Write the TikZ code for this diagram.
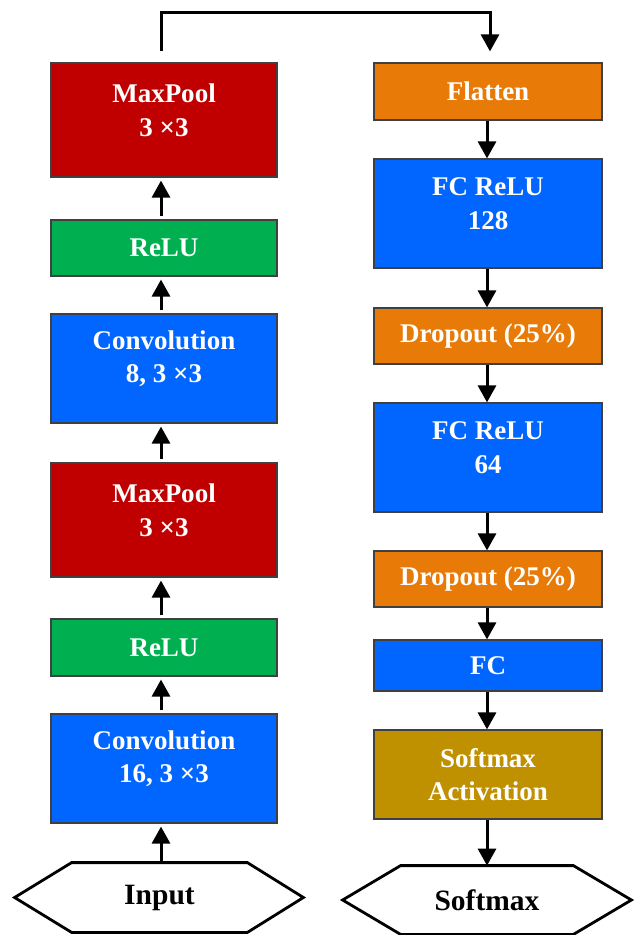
\documentclass[tikz,border=0pt]{standalone}
\usepackage{fontspec}
\setmainfont{Liberation Serif}
\usetikzlibrary{arrows.meta}
\definecolor{cred}{HTML}{C00000}
\definecolor{cgreen}{HTML}{00B050}
\definecolor{cblue}{HTML}{0066FF}
\definecolor{corange}{HTML}{E87A08}
\definecolor{cgold}{HTML}{BF9000}
\tikzset{
  layer/.style={draw=black!75, line width=0.6pt, fill=#1, text=white, align=center,
    font=\fontsize{13.5}{16.5}\selectfont\bfseries, inner sep=0pt},
  txt/.style={text=white, align=center, inner sep=0pt,
    font=\fontsize{13.5}{16.8}\selectfont\bfseries, yshift=4.8pt},
  lcol/.style={minimum width=113pt},
  rcol/.style={minimum width=114pt},
  hexlabel/.style={draw=none, inner sep=0pt, font=\fontsize{14.75}{17}\selectfont\bfseries, text=black},
  hexline/.style={draw=black, line width=1.4pt, line join=miter},
  flow/.style={line width=1.5pt, -{Triangle[width=9pt,length=8.5pt]}},
}
\begin{document}
\begin{tikzpicture}[x=0.5pt, y=-0.5pt]
\useasboundingbox (0,0) rectangle (638,935);
% left column
\node[layer=cblue, lcol, minimum height=54.5pt, label={[txt]center:{Convolution\\16, 3 ×3}}] (c16) at (164,768.5) {};
\node[layer=cgreen, lcol, minimum height=28.5pt] (r2) at (164,647.5) {ReLU};
\node[layer=cred, lcol, minimum height=57pt, label={[txt]center:{MaxPool\\3 ×3}}] (m2) at (164,520) {};
\node[layer=cblue, lcol, minimum height=54.5pt, label={[txt]center:{Convolution\\8, 3 ×3}}] (c8) at (164,368.5) {};
\node[layer=cgreen, lcol, minimum height=28pt] (r1) at (164,248) {ReLU};
\node[layer=cred, lcol, minimum height=57pt, label={[txt]center:{MaxPool\\3 ×3}}] (m1) at (164,120) {};
% right column
\node[layer=corange, rcol, minimum height=28.5pt] (fl) at (488,91.5) {Flatten};
\node[layer=cblue, rcol, minimum height=54.5pt, label={[txt]center:{FC ReLU\\128}}] (fc1) at (488,213.5) {};
\node[layer=corange, rcol, minimum height=28pt] (d1) at (488,336) {Dropout (25\%)};
\node[layer=cblue, rcol, minimum height=54.5pt, label={[txt]center:{FC ReLU\\64}}] (fc2) at (488,457.5) {};
\node[layer=corange, rcol, minimum height=28pt] (d2) at (488,579) {Dropout (25\%)};
\node[layer=cblue, rcol, minimum height=25.5pt] (fc3) at (488,665.5) {FC};
\node[layer=cgold, rcol, minimum height=44.5pt] (sa) at (488,774.5) {Softmax\\Activation};
% hexagons
\node[hexlabel, minimum width=87.5pt, minimum height=34.5pt] (in) at (159.5,897.5) {Input};
\draw[hexline] (in.north west) -- (in.north east) -- ([xshift=28pt]in.east) -- (in.south east)
  -- (in.south west) -- ([xshift=-28.5pt]in.west) -- cycle;
\node[hexlabel, minimum width=86pt, minimum height=34pt] (out) at (487,900) {Softmax};
\draw[hexline] (out.north west) -- (out.north east) -- ([xshift=29pt]out.east) -- (out.south east)
  -- (out.south west) -- ([xshift=-29pt]out.west) -- cycle;
% left arrows (upwards)
\draw[flow, shorten <=0.5pt, shorten >=1.5pt] ([xshift=-1.5pt]in.north -| c16.south) -- ([xshift=-1.5pt]c16.south);
\draw[flow, shorten <=1.5pt, shorten >=1.5pt] ([xshift=-1.5pt]c16.north) -- ([xshift=-1.5pt]r2.south);
\draw[flow, shorten <=1.5pt, shorten >=1.5pt] ([xshift=-1.5pt]r2.north) -- ([xshift=-1.5pt]m2.south);
\draw[flow, shorten <=1.5pt, shorten >=1.5pt] ([xshift=-1.5pt]m2.north) -- ([xshift=-1.5pt]c8.south);
\draw[flow, shorten <=1.5pt, shorten >=1.5pt] ([xshift=-1.5pt]c8.north) -- ([xshift=-1.5pt]r1.south);
\draw[flow, shorten <=1.5pt, shorten >=1.5pt] ([xshift=-1.5pt]r1.north) -- ([xshift=-1.5pt]m1.south);
% top connector
\coordinate (top) at (0,13);
\draw[flow, line join=miter] ([xshift=-1.5pt,yshift=5.5pt]m1.north) -- ([xshift=-1.5pt]m1.north |- top)
  -- ([xshift=1pt]fl.north |- top) -- ([xshift=1pt,yshift=5.5pt]fl.north);
% right arrows (downwards)
\draw[flow] ([xshift=-0.5pt]fl.south) -- ([xshift=-0.5pt]fc1.north);
\draw[flow] ([xshift=-0.5pt]fc1.south) -- ([xshift=-0.5pt]d1.north);
\draw[flow] ([xshift=-0.5pt]d1.south) -- ([xshift=-0.5pt]fc2.north);
\draw[flow] ([xshift=-0.5pt]fc2.south) -- ([xshift=-0.5pt]d2.north);
\draw[flow] ([xshift=-0.5pt]d2.south) -- ([xshift=-0.5pt]fc3.north);
\draw[flow] ([xshift=-0.5pt]fc3.south) -- ([xshift=-0.5pt]sa.north);
\draw[flow] ([xshift=-0.5pt]sa.south) -- ([xshift=-0.5pt]sa.south |- out.north);
\end{tikzpicture}
\end{document}
